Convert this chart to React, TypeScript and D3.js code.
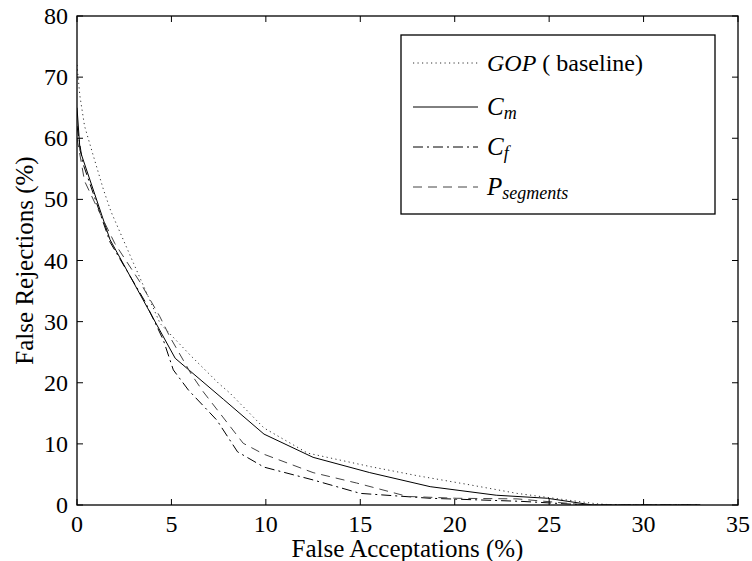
import React from "react";
import * as d3 from "d3";

const gopX = [0, 0.15, 0.4, 0.8, 1.4, 1.8, 3, 4.4, 6, 7.5, 8.1, 9.9, 12.2, 15.5, 18, 20.8, 23.3, 25.5, 27.5, 28.5, 33];
const gopY = [72, 67, 62, 57.8, 51.6, 48, 39.5, 29.7, 24.5, 19.9, 18.3, 12.6, 8.5, 6.3, 4.8, 3.3, 1.9, 1, 0.2, 0, 0];

const cmX = [0, 0.16, 1.75, 5.2, 7.75, 9.9, 12.5, 15.5, 18.7, 22.2, 24.9, 27.3, 33];
const cmY = [65, 58, 43.4, 24, 17.3, 11.6, 7.8, 5.3, 3, 1.6, 1.1, 0, 0];

const cfX = [0, 0.3, 1.75, 3.6, 4.57, 5.1, 5.9, 7.4, 8.5, 9.9, 12.5, 15, 18.7, 23.5, 27, 33];
const cfY = [62, 56, 43, 33.3, 27, 22.1, 18.8, 13.9, 8.7, 6.2, 4.1, 1.9, 1.1, 0.6, 0, 0];

const psX = [0, 0.4, 0.95, 2, 3.33, 4.39, 4.92, 6.07, 6.69, 8.8, 9.9, 12.5, 14.8, 17.5, 20.1, 23.3, 27, 33];
const psY = [60, 53, 49.4, 42.8, 36.5, 30.8, 27.5, 21.3, 18.5, 10.1, 8.3, 5.3, 3.6, 1.4, 1.1, 1, 0, 0];

const xTicks = [0, 5, 10, 15, 20, 25, 30, 35];
const yTicks = [0, 10, 20, 30, 40, 50, 60, 70, 80];

const W = 752, H = 561;
const L = 77, R = 738, T = 16, B = 505;
const FONT = "'Liberation Serif', 'Times New Roman', serif";

const series = [
  { xs: gopX, ys: gopY, dash: "1.2,3.3", color: "#333", key: "gop" },
  { xs: cmX, ys: cmY, dash: "", color: "#000", key: "cm" },
  { xs: cfX, ys: cfY, dash: "10,4,2,4", color: "#000", key: "cf" },
  { xs: psX, ys: psY, dash: "9,6", color: "#444", key: "ps" },
];

export default function App() {
  const x = d3.scaleLinear().domain([0, 35]).range([L, R]);
  const y = d3.scaleLinear().domain([0, 80]).range([B, T]);
  const line = d3.line<[number, number]>().x(d => x(d[0])).y(d => y(d[1]));
  const tl = 6;

  const legX0 = 413, legX1 = 478, legTx = 487;
  const legYs = [63, 107, 147, 187];

  return (
    <div style={{ position: "fixed", left: 0, top: 0 }}>
      <svg width={W} height={H} style={{ display: "block", background: "#fff" }} fontFamily={FONT}>
        <rect x={0} y={0} width={W} height={H} fill="#fff" />
        <defs>
          <clipPath id="clip">
            <rect x={L} y={T} width={R - L} height={B - T} />
          </clipPath>
        </defs>
        <g clipPath="url(#clip)">
          {series.map(s => (
            <path
              key={s.key}
              d={line(s.xs.map((v, i) => [v, s.ys[i]] as [number, number])) || ""}
              fill="none"
              stroke={s.color}
              strokeWidth={1}
              strokeDasharray={s.dash || undefined}
            />
          ))}
        </g>
        <rect x={L} y={T} width={R - L} height={B - T} fill="none" stroke="#000" strokeWidth={1.3} />
        {xTicks.map(t => (
          <g key={"xt" + t}>
            <line x1={x(t)} x2={x(t)} y1={B} y2={B - tl} stroke="#000" />
            <line x1={x(t)} x2={x(t)} y1={T} y2={T + tl} stroke="#000" />
            <text x={x(t)} y={B + 27} textAnchor="middle" fontSize={24}>{t}</text>
          </g>
        ))}
        {yTicks.map(t => (
          <g key={"yt" + t}>
            <line x1={L} x2={L + tl} y1={y(t)} y2={y(t)} stroke="#000" />
            <line x1={R} x2={R - tl} y1={y(t)} y2={y(t)} stroke="#000" />
            <text x={L - 9} y={y(t) + 8} textAnchor="end" fontSize={24}>{t}</text>
          </g>
        ))}
        <text x={(L + R) / 2} y={557} textAnchor="middle" fontSize={25}>False Acceptations (%)</text>
        <text transform={`translate(33,${(T + B) / 2}) rotate(-90)`} textAnchor="middle" fontSize={25}>False Rejections (%)</text>

        <rect x={401} y={35} width={314} height={179} fill="#fff" stroke="#000" strokeWidth={1.3} />
        {series.map((s, i) => (
          <line key={"lg" + s.key} x1={legX0} x2={legX1} y1={legYs[i]} y2={legYs[i]} stroke={s.color} strokeWidth={1} strokeDasharray={s.dash || undefined} />
        ))}
        <text x={legTx} y={legYs[0] + 8} fontSize={24}>
          <tspan fontStyle="italic">GOP</tspan>
          <tspan>{" (  baseline)"}</tspan>
        </text>
        <text x={legTx} y={legYs[1] + 8} fontSize={25}>
          <tspan fontStyle="italic">C</tspan>
          <tspan fontStyle="italic" fontSize={18} dy={4}>m</tspan>
        </text>
        <text x={legTx} y={legYs[2] + 8} fontSize={25}>
          <tspan fontStyle="italic">C</tspan>
          <tspan fontStyle="italic" fontSize={18} dy={4}>f</tspan>
        </text>
        <text x={legTx} y={legYs[3] + 8} fontSize={25}>
          <tspan fontStyle="italic">P</tspan>
          <tspan fontStyle="italic" fontSize={18} dy={4}>segments</tspan>
        </text>
      </svg>
    </div>
  );
}
